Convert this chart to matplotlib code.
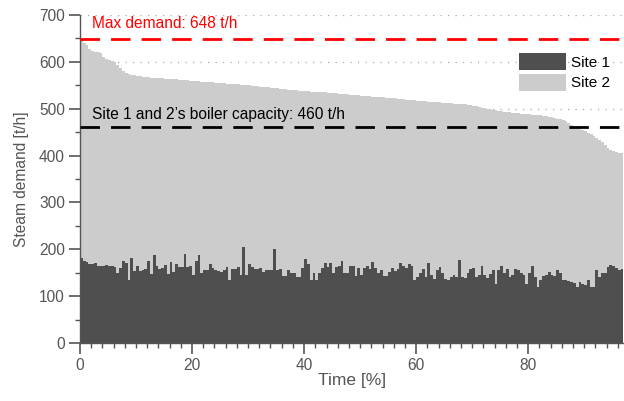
import numpy as np
import matplotlib
matplotlib.use("Agg")
from matplotlib import pyplot as plt

# ----------------------------------------------------------------------------------------------
# Data: steam demand per time bin (0.5 % of time each), sorted by total demand
# ----------------------------------------------------------------------------------------------
bin_width = 0.5                                                                 # % of time per bar
total_demand = [
    647, 641, 635, 628, 623, 621, 620, 618, 610, 607, 604, 602, 599, 594, 587, 581, 577, 575, 573, 572,
    570, 569, 568, 567, 567, 566, 566, 565, 565, 565, 564, 564, 564, 563, 563, 562, 562, 561, 561, 560,
    560, 559, 559, 558, 558, 557, 557, 556, 555, 555, 554, 554, 553, 553, 553, 552, 552, 551, 551, 550,
    550, 549, 548, 548, 547, 547, 546, 546, 545, 544, 544, 543, 542, 542, 541, 540, 540, 539, 538, 538,
    537, 537, 536, 536, 536, 535, 535, 535, 534, 534, 533, 533, 532, 532, 531, 531, 530, 530, 529, 529,
    528, 528, 527, 527, 526, 526, 525, 525, 524, 523, 523, 522, 522, 521, 520, 520, 519, 519, 518, 518,
    517, 517, 516, 516, 515, 515, 515, 514, 514, 513, 513, 512, 512, 511, 511, 510, 510, 509, 508, 507,
    506, 505, 504, 502, 501, 500, 499, 498, 497, 496, 495, 494, 493, 492, 491, 490, 490, 489, 489, 488,
    488, 487, 487, 487, 486, 485, 484, 483, 482, 481, 479, 477, 475, 473, 470, 466, 462, 460, 457, 455,
    452, 449, 446, 442, 438, 433, 428, 422, 416, 412, 409, 407, 406, 405,
]
site1_demand = [
    181, 174, 172, 168, 168, 170, 165, 164, 164, 166, 165, 164, 163, 150, 160, 175, 170, 134, 182, 154,
    164, 153, 155, 158, 176, 147, 188, 164, 158, 160, 166, 148, 172, 152, 168, 163, 162, 191, 162, 164,
    146, 176, 187, 150, 156, 156, 168, 160, 155, 153, 152, 155, 162, 134, 158, 158, 163, 146, 205, 146,
    168, 162, 158, 158, 160, 151, 156, 156, 155, 200, 156, 158, 144, 144, 156, 150, 149, 140, 140, 160,
    180, 168, 134, 150, 134, 149, 160, 170, 163, 170, 150, 163, 165, 175, 150, 150, 165, 165, 143, 160,
    145, 160, 165, 159, 172, 160, 150, 155, 144, 144, 152, 160, 153, 158, 170, 165, 160, 168, 165, 135,
    140, 150, 159, 140, 170, 145, 137, 155, 163, 150, 137, 135, 140, 146, 140, 177, 140, 138, 150, 158,
    160, 140, 145, 165, 145, 138, 147, 155, 125, 155, 165, 150, 158, 140, 145, 158, 155, 150, 145, 125,
    150, 165, 140, 120, 135, 142, 145, 152, 145, 143, 155, 150, 135, 135, 132, 130, 128, 120, 130, 125,
    124, 135, 120, 120, 155, 141, 150, 150, 162, 167, 164, 160, 155, 159,
]
max_demand = 648
boiler_capacity = 460

# ----------------------------------------------------------------------------------------------
plt.rcParams['font.family'] = ['Liberation Sans', 'DejaVu Sans']
grey = '#555555'

time_pct = np.arange(len(total_demand)) * bin_width
site1 = np.array(site1_demand, dtype=float)
site2 = np.array(total_demand, dtype=float) - site1                             # Stacked on top of site 1

fig = plt.figure(figsize=(6.24, 4.01), dpi=100)
ax = fig.add_axes([0.1282, 0.1446, 0.8718, 0.818])

ax.bar(time_pct, site1, width=bin_width, align='edge', color='#4f4f4f', linewidth=0, label='Site 1', zorder=2)
ax.bar(time_pct, site2, bottom=site1, width=bin_width, align='edge', color='#cccccc', linewidth=0, label='Site 2', zorder=2)

ax.axhline(max_demand, color='#ff0000', lw=2.0, dashes=(7, 4), zorder=3)
ax.axhline(boiler_capacity, color='black', lw=2.0, dashes=(7, 4), zorder=3)
ax.text(2.1, max_demand + 24, 'Max demand: %d t/h' % max_demand, color='#ff0000', fontsize=11.2, zorder=4)
ax.text(2.1, boiler_capacity + 18, 'Site 1 and 2\u2019s boiler capacity: %d t/h' % boiler_capacity,
        color='black', fontsize=11.2, zorder=4)

ax.set_xlim(0, 97.1)
ax.set_ylim(0, 700)
ax.set_xticks(np.arange(0, 97, 20))
ax.set_xticks(np.arange(0, 97.1, 2), minor=True)
ax.set_yticks(np.arange(0, 701, 100))
ax.set_yticks(np.arange(0, 701, 50), minor=True)
ax.yaxis.grid(True, which='major', color='#aaaaaa', linestyle=(0, (1, 5)), linewidth=0.9, zorder=0)
ax.set_axisbelow(True)

for side in ['top', 'right']:
    ax.spines[side].set_visible(False)
for side in ['left', 'bottom']:
    ax.spines[side].set_color(grey)
    ax.spines[side].set_linewidth(1.0)
ax.tick_params(which='major', direction='out', length=7.8, width=1.2, pad=3, color=grey, labelcolor=grey, labelsize=11.2)
ax.tick_params(which='minor', direction='out', length=3.4, width=1.0, color=grey)
ax.set_xlabel('Time [%]', color=grey, fontsize=12.5, labelpad=0)
ax.set_ylabel('Steam demand [t/h]', color=grey, fontsize=11.2, labelpad=7)

ax.legend(loc='upper right', bbox_to_anchor=(1.0, 0.925), frameon=False, fontsize=11,
          handlelength=3.1, handleheight=1.35, handletextpad=0.35, labelspacing=0.2)

fig.savefig('out.png', dpi=100)
